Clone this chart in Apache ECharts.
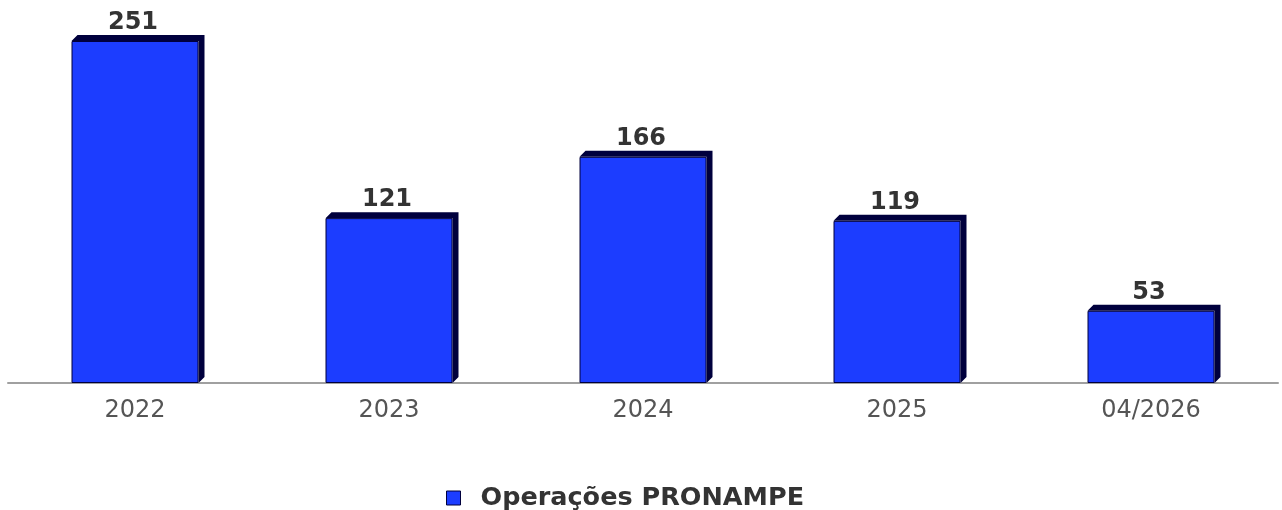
<!DOCTYPE html>
<html>
<head>
<meta charset="utf-8">
<script src="https://cdn.jsdelivr.net/npm/echarts@6/dist/echarts.min.js"></script>
<style>
  html, body { margin: 0; padding: 0; background: #fff; }
  #chart { width: 1282px; height: 510px; }
</style>
</head>
<body>
<div id="chart"></div>
<script>
const categories = ['2022', '2023', '2024', '2025', '04/2026']
const operacoes = [251, 121, 166, 119, 53]
const seriesName = 'Operações PRONAMPE'

const frontColor = '#1c3dff'
const sideColor = '#00003d'
const depth = 6

var myChart = echarts.init(document.getElementById('chart'))

// extrusão "3D" atrás das barras
const renderDepth = (params, api) => {
  const idx = api.value(0)
  const base = api.coord([idx, 0])
  const top = api.coord([idx, api.value(1)])
  const bw = api.size([1, 0])[0] * 0.5
  const x0 = base[0] - bw / 2
  const x1 = x0 + bw
  return {
    type: 'polygon',
    shape: {
      points: [
        [x0, top[1]],
        [x0 + depth, top[1] - depth],
        [x1 + depth, top[1] - depth],
        [x1 + depth, base[1] - depth],
        [x1, base[1]],
        [x1, top[1]]
      ]
    },
    style: { fill: sideColor }
  }
}

var option = {
  animation: false,
  grid: { left: 8, right: 4, top: 41, bottom: 127 },
  legend: {
    data: [seriesName],
    left: 441,
    top: 480,
    icon: 'rect',
    itemWidth: 14,
    itemHeight: 14,
    itemStyle: { borderColor: sideColor, borderWidth: 1 },
    textStyle: {
      fontFamily: 'DejaVu Sans',
      fontWeight: 'bold',
      fontSize: 25.5,
      color: '#333',
      padding: [0, 0, 0, 15]
    }
  },
  xAxis: {
    type: 'category',
    data: categories,
    axisLine: { lineStyle: { color: '#a0a0a0', width: 2 } },
    axisTick: { show: false },
    axisLabel: {
      fontFamily: 'DejaVu Sans',
      fontSize: 24,
      color: '#555',
      margin: 16
    }
  },
  yAxis: {
    type: 'value',
    min: 0,
    max: 251,
    show: false
  },
  series: [
    {
      type: 'custom',
      z: 1,
      renderItem: renderDepth,
      data: operacoes.map((v, i) => [i, v]),
      silent: true
    },
    {
      name: seriesName,
      type: 'bar',
      z: 2,
      barWidth: '50%',
      data: operacoes,
      itemStyle: { color: frontColor, borderColor: sideColor, borderWidth: 1 },
      label: {
        show: true,
        position: 'top',
        distance: 6,
        offset: [-2, 0],
        fontFamily: 'DejaVu Sans',
        fontWeight: 'bold',
        fontSize: 24,
        color: '#333'
      }
    }
  ]
}

myChart.setOption(option)
</script>
</body>
</html>
